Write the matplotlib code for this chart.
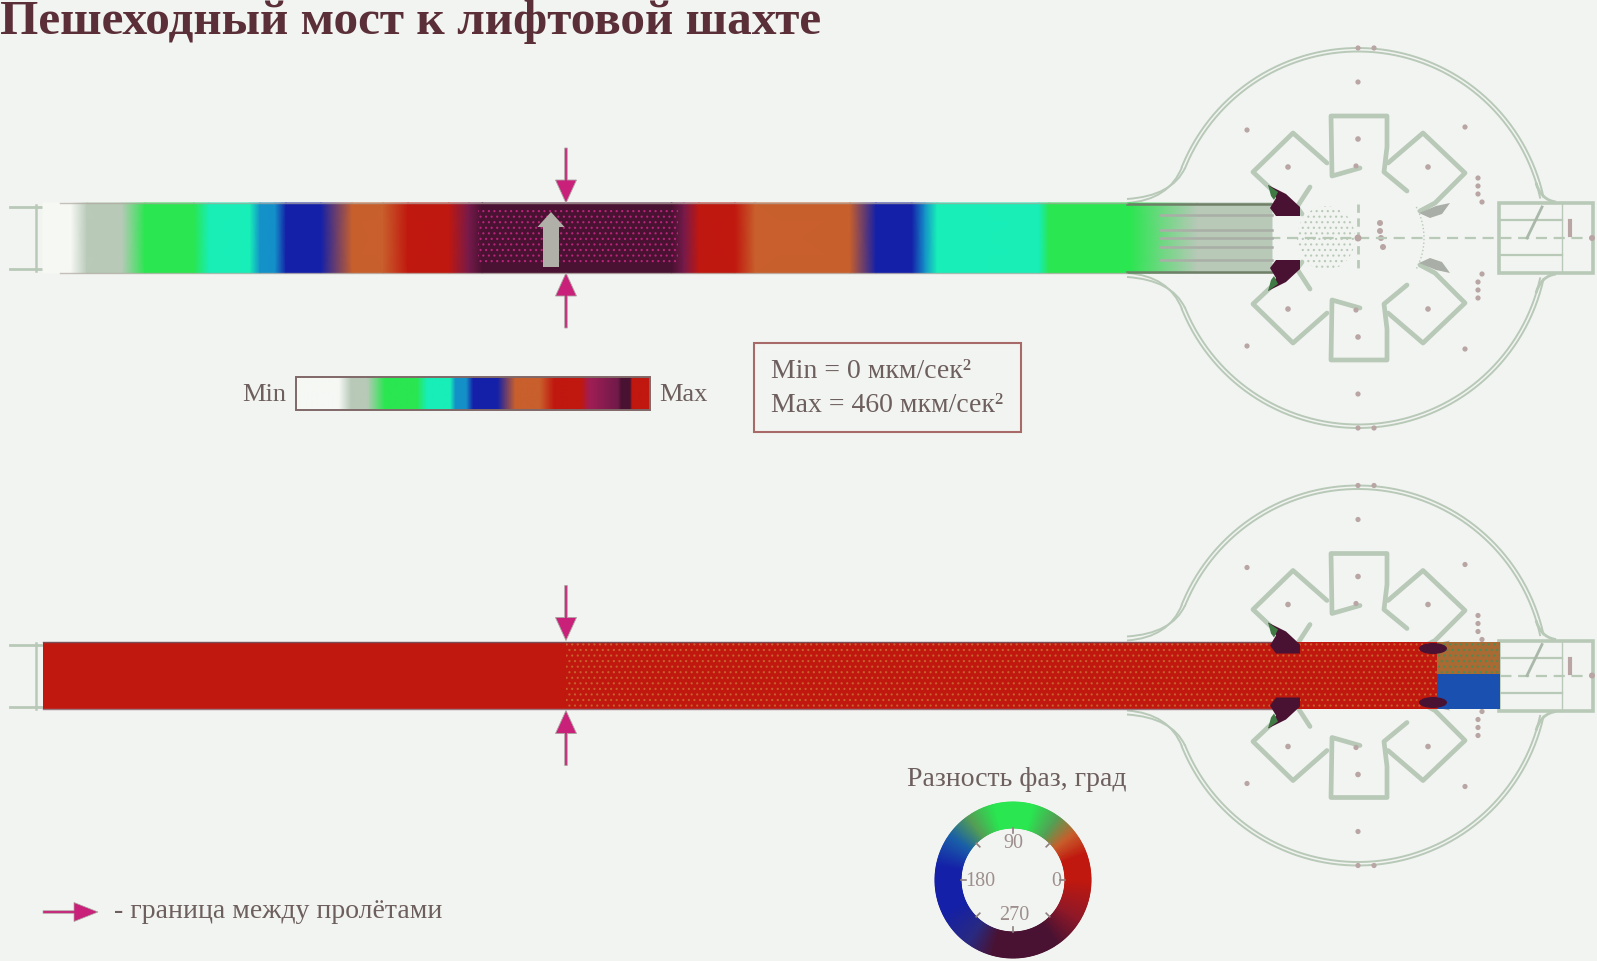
import matplotlib
matplotlib.use("Agg")
import matplotlib.pyplot as plt
import numpy as np
from matplotlib.colors import LinearSegmentedColormap
from matplotlib.patches import Circle, Ellipse, FancyArrow, PathPatch, Polygon, Rectangle
from matplotlib.path import Path

# colour scale of the legend bar (position, colour)
AMP_STOPS = [
    (0.00, "#f6f8f4"), (0.12, "#f6f8f4"), (0.155, "#b8c9b8"), (0.20, "#b8c9b8"),
    (0.25, "#2ae650"), (0.34, "#2ae650"), (0.37, "#18eeb8"), (0.435, "#18eeb8"),
    (0.45, "#1490c8"), (0.48, "#1490c8"), (0.50, "#1420a8"), (0.57, "#1420a8"),
    (0.62, "#c85f2c"), (0.69, "#c85f2c"), (0.73, "#c0180f"), (0.805, "#c0180f"),
    (0.83, "#a01e55"), (0.91, "#701a4a"), (0.92, "#4a1232"), (0.945, "#4a1232"),
    (0.95, "#c0180f"), (1.00, "#c0180f"),
]
# phase wheel colours (degrees, colour)
PHASE_STOPS = [
    (0, "#c0180f"), (20, "#c0180f"), (38, "#c85f2c"), (55, "#55a055"), (75, "#2ae650"),
    (105, "#2ae650"), (125, "#55a055"), (145, "#1a60a8"), (170, "#1420a8"), (205, "#1420a8"),
    (235, "#2a2a80"), (255, "#4a1232"), (305, "#4a1232"), (330, "#901828"), (360, "#c0180f"),
]

# acceleration along the upper bridge, as position on the colour scale
band_x = [43, 71, 87, 122, 145, 194, 209, 250, 260, 275, 286, 321, 352, 383, 408, 449, 469, 482,
          672, 684, 699, 735, 755, 850, 876, 912, 925, 937, 1039, 1049, 1130, 1197, 1272]
band_v = [0.0, 0.12, 0.155, 0.20, 0.25, 0.34, 0.37, 0.435, 0.45, 0.48, 0.50, 0.57, 0.62, 0.69,
          0.73, 0.805, 0.90, 0.93, 0.93, 0.90, 0.805, 0.73, 0.69, 0.62, 0.57, 0.50, 0.45, 0.435,
          0.37, 0.34, 0.25, 0.20, 0.20]

ring_labels = ["0", "90", "180", "270"]
ring_deg = [0, 90, 180, 270]

title = "Пешеходный мост к лифтовой шахте"
units_lines = ["Min = 0 мкм/сек²", "Max = 460 мкм/сек²"]
ring_title = "Разность фаз, град"
span_note = "- граница между пролётами"

# plan geometry, relative to the shaft centre (upper half, mirrored for the lower one)
SHAFT_X = 1358
PANEL_Y = [238, 675.5]
HALF_W = 35
POD_LINES = [
    [(2, -70), (-26, -62), (-27, -122), (29, -122), (29, -91), (26, -66), (49, -47)],
    [(30, -75), (65, -105), (107, -65), (77, -35), (62, -27)],
    [(-31, -75), (-65, -105), (-105, -66), (-88, -50)],
    [(-48, -51), (-61, -31), (-56, -24)],
]
POD_DOTS = [(0, -99), (70, -71), (-70, -71)]
WEDGE = [(-90, -53), (-72, -44), (-58, -31), (-58, -22), (-82, -22), (-88, -30), (-82, -40)]
GREEN_TIP = [(-90, -53), (-80, -46), (-84, -38), (-87, -42)]
PAIR_SPOTS = [(0, -190), (16, -190), (0, -156), (-111, -108), (107, -111), (120, -60), (120, -52), (120, -44),
              (124, -36), (-2, -72)]
ONE_SPOTS = [(22, -15), (22, -7), (23, 0), (25, 9)]

BG = "#f2f4f1"
PLAN = "#b8c9b8"
SPOT = "#b9a6a4"
DARK = "#4a1232"
RED = "#c0180f"
MAGENTA = "#c9207a"
TEXT = "#6d5f5e"
SERIF = "Liberation Serif"

amp_cmap = LinearSegmentedColormap.from_list("amp", AMP_STOPS, N=1024)
phase_cmap = LinearSegmentedColormap.from_list("phase", [(d / 360, c) for d, c in PHASE_STOPS], N=720)


def mirrored(points):
    return [(x, -y) for x, y in points]


def draw_plan(ax, cy):
    """Light green outline of the shaft platform, the same in both views."""
    cx = SHAFT_X
    t = np.radians(np.linspace(12.5, 158, 200))
    for sign in (-1, 1):
        for r in (190, 186.5):
            ax.plot(cx + r * np.cos(t), cy + sign * r * np.sin(t), color=PLAN, lw=1.4, zorder=2)
        for start, ctrl, end in [((1127, 35), (1169, 38), (1182, 71)), ((1127, 39), (1172, 42), (1185, 70))]:
            ax.add_patch(PathPatch(
                Path([(start[0], cy + sign * start[1]), (ctrl[0], cy + sign * ctrl[1]), (end[0], cy + sign * end[1])],
                     [Path.MOVETO, Path.CURVE3, Path.CURVE3]),
                fill=False, ec=PLAN, lw=1.4, zorder=2))
        ax.add_patch(PathPatch(
            Path([(1536, cy + sign * 55), (1541, cy + sign * 38), (1556, cy + sign * 36)],
                 [Path.MOVETO, Path.CURVE3, Path.CURVE3]),
            fill=False, ec=PLAN, lw=2, zorder=2))

    for line in POD_LINES:
        for shape in (line, mirrored(line)):
            pts = np.array(shape) + [cx, cy]
            ax.plot(pts[:, 0], pts[:, 1], color=PLAN, lw=3.4, solid_joinstyle="round", solid_capstyle="round", zorder=2)
    for x, y in POD_DOTS:
        ax.add_patch(Circle((cx + x, cy + y), 2.8, fc=SPOT, ec="none", zorder=3))
        ax.add_patch(Circle((cx + x, cy - y), 2.8, fc=SPOT, ec="none", zorder=3))
    for x, y in PAIR_SPOTS:
        ax.add_patch(Circle((cx + x, cy + y), 2.6, fc=SPOT, ec="none", zorder=2))
        ax.add_patch(Circle((cx + x, cy - y), 2.6, fc=SPOT, ec="none", zorder=2))
    for x, y in ONE_SPOTS:
        ax.add_patch(Circle((cx + x, cy + y), 3, fc=SPOT, ec="none", zorder=2))

    # centre lines and the dotted landing
    ax.plot([1127, 1593], [cy, cy], color=PLAN, lw=1.6, ls=(0, (5, 3)), zorder=2)
    ax.plot([cx, cx], [cy - 34, cy + 34], color=PLAN, lw=2, ls=(0, (3, 2)), zorder=2)
    ax.add_patch(Circle((cx, cy), 3.5, fc=SPOT, ec="none", zorder=3))
    t = np.radians(np.linspace(-28, 28, 40))
    ax.plot(cx + 66 * np.cos(t), cy + 66 * np.sin(t), color=PLAN, lw=1, ls=":", zorder=2)
    ax.add_patch(Ellipse((1326, cy), 58, 64, fc="none", ec=PLAN, hatch="...", lw=0, zorder=2))
    for sign in (-1, 1):
        ax.add_patch(Polygon([(1419, cy + sign * 25), (1436, cy + sign * 32), (1450, cy + sign * 35),
                              (1442, cy + sign * 24), (1430, cy + sign * 20)], fc="#a9aea6", ec="none", zorder=2))

    # far end of the landing
    ax.add_patch(Rectangle((1499, cy - 35), 94, 70, fill=False, ec=PLAN, lw=2.6, zorder=2))
    for y in (-18, 17):
        ax.plot([1499, 1562], [cy + y, cy + y], color=PLAN, lw=1.6, zorder=2)
    ax.plot([1562, 1562], [cy - 35, cy + 35], color=PLAN, lw=1.0, zorder=2)
    ax.plot([1542, 1527], [cy - 31, cy], color="#a9b8a8", lw=2, zorder=2)
    ax.plot([1570, 1570], [cy - 17, cy - 3], color=SPOT, lw=3, zorder=2)
    ax.add_patch(Circle((1592, cy), 3, fc=SPOT, ec="none", zorder=3))

    # stub at the left end of the bridge
    for sign in (-1, 1):
        ax.plot([10, 44], [cy + sign * 31, cy + sign * 31], color=PLAN, lw=2, zorder=2)
    ax.plot([36, 36], [cy - 33, cy + 33], color=PLAN, lw=1.8, zorder=2)


def draw_wedges(ax, cy):
    for shape in (WEDGE, mirrored(WEDGE)):
        ax.add_patch(Polygon(np.array(shape) + [SHAFT_X, cy], fc=DARK, ec="none", zorder=6))
    for shape in (GREEN_TIP, mirrored(GREEN_TIP)):
        ax.add_patch(Polygon(np.array(shape) + [SHAFT_X, cy], fc="#3f7a45", ec="none", zorder=6))


def span_arrows(ax, cy):
    for sign in (-1, 1):
        ax.add_patch(FancyArrow(566, cy + sign * 90, 0, -sign * 55, width=2.5, head_width=21, head_length=23,
                                length_includes_head=True, fc=MAGENTA, ec="#a9a49f", lw=0.6, zorder=7))


def draw_upper(ax):
    cy = PANEL_Y[0]
    draw_plan(ax, cy)
    ax.pcolormesh(band_x, [cy - HALF_W, cy + HALF_W], np.array([band_v, band_v]), cmap=amp_cmap,
                  vmin=0, vmax=1, shading="gouraud", zorder=3)
    ax.add_patch(Rectangle((478, cy - HALF_W + 6), 200, 2 * HALF_W - 14, fc="none", ec="#b8247a",
                           hatch="...", lw=0, zorder=4))
    # structural strips over the fading end of the bridge
    for y in (-23, -8, 0, 9, 22):
        ax.plot([1160, 1272], [cy + y, cy + y], color="#a9aea6", lw=1.8, zorder=4)
    for sign in (-1, 1):
        ax.plot([1127, 1272], [cy + sign * 34, cy + sign * 34], color="#6f7f68", lw=1.8, zorder=4)
        ax.plot([60, 1127], [cy + sign * 35, cy + sign * 35], color="#b0a8a0", lw=1, zorder=4, alpha=0.7)
    draw_wedges(ax, cy)
    span_arrows(ax, cy)
    ax.add_patch(FancyArrow(551, cy + 29, 0, -55, width=16, head_width=27, head_length=15,
                            length_includes_head=True, fc="#b0b0a8", ec="none", zorder=7))


def draw_lower(ax):
    cy = PANEL_Y[1]
    draw_plan(ax, cy)
    top, bot = cy - 33.5, cy + 33.5
    ax.add_patch(Rectangle((43, top), 1394, bot - top, fc=RED, ec="none", zorder=3))
    ax.add_patch(Rectangle((566, top), 871, bot - top, fc="none", ec="#c85f2c", hatch="...", lw=0, zorder=4))
    ax.add_patch(Rectangle((1437, top), 63, cy - 2 - top, fc="#a96a34", ec="none", zorder=4))
    ax.add_patch(Rectangle((1437, top), 63, cy - 2 - top, fc="none", ec="#4f8a50", hatch="...", lw=0, zorder=5))
    ax.add_patch(Rectangle((1437, cy - 2), 63, bot - cy + 2, fc="#1a50b0", ec="none", zorder=4))
    ax.plot([43, 1272], [top, top], color="#7a5058", lw=1, zorder=5)
    ax.plot([43, 1272], [bot, bot], color="#9a7880", lw=1, zorder=5)
    for sign in (-1, 1):
        ax.add_patch(Ellipse((1433, cy + sign * 27), 28, 11, fc=DARK, ec="none", zorder=6))
    draw_wedges(ax, cy)
    span_arrows(ax, cy)


def draw_scale(ax):
    grad = np.linspace(0, 1, 512).reshape(1, -1)
    ax.imshow(grad, cmap=amp_cmap, vmin=0, vmax=1, extent=(296, 650, 410, 377), aspect="auto", zorder=3)
    ax.add_patch(Rectangle((296, 377), 354, 33, fill=False, ec="#806868", lw=1.4, zorder=4))
    ax.text(286, 395, "Min", family=SERIF, fontsize=19, color=TEXT, ha="right", va="center")
    ax.text(659, 395, "Max", family=SERIF, fontsize=19, color=TEXT, ha="left", va="center")
    ax.add_patch(Rectangle((754, 343), 267, 89, fill=False, ec="#a86a68", lw=1.5))
    ax.text(771, 371, units_lines[0], family=SERIF, fontsize=20, color=TEXT, va="center")
    ax.text(771, 405, units_lines[1], family=SERIF, fontsize=20, color=TEXT, va="center")


def draw_wheel(ax):
    cx, cy = 1013, 880
    th = np.linspace(0, 360, 361)
    rad = np.array([52, 78])
    T, R = np.meshgrid(np.radians(th), rad)
    ax.pcolormesh(cx + R * np.cos(T), cy - R * np.sin(T), np.array([th, th]), cmap=phase_cmap,
                  vmin=0, vmax=360, shading="gouraud", zorder=3)
    for deg in ring_deg + [45, 135, 225, 315]:
        a = np.radians(deg)
        ax.plot([cx + 47 * np.cos(a), cx + 52 * np.cos(a)], [cy - 47 * np.sin(a), cy - 52 * np.sin(a)],
                color="#8f8080", lw=1.2, zorder=4)
    label_pos = [(1056, 881), (1013, 843), (980, 881), (1014, 916)]
    for lab, (x, y) in zip(ring_labels, label_pos):
        ax.text(x, y, lab, family=SERIF, fontsize=14.5, color="#9d8f8e", ha="center", va="center")
    ax.text(1017, 780, ring_title, family=SERIF, fontsize=20, color=TEXT, ha="center", va="center")


plt.rcParams["hatch.linewidth"] = 0.8
fig = plt.figure(figsize=(15.97, 9.61), dpi=100, facecolor=BG)
ax = fig.add_axes([0, 0, 1, 1])
ax.set_xlim(0, 1597)
ax.set_ylim(961, 0)
ax.axis("off")

draw_upper(ax)
draw_lower(ax)
draw_scale(ax)
draw_wheel(ax)
ax.set_xlim(0, 1597)
ax.set_ylim(961, 0)

ax.text(0, 22, title, family=SERIF, fontweight="bold", fontsize=35.5, color="#5b2f38", ha="left", va="center")
ax.add_patch(FancyArrow(43, 912, 55, 0, width=2.5, head_width=19, head_length=24,
                        length_includes_head=True, fc=MAGENTA, ec="#a9a49f", lw=0.5, zorder=7))
ax.text(114, 912, span_note, family=SERIF, fontsize=20, color=TEXT, ha="left", va="center")

fig.savefig("out.png", dpi=100, facecolor=BG)
